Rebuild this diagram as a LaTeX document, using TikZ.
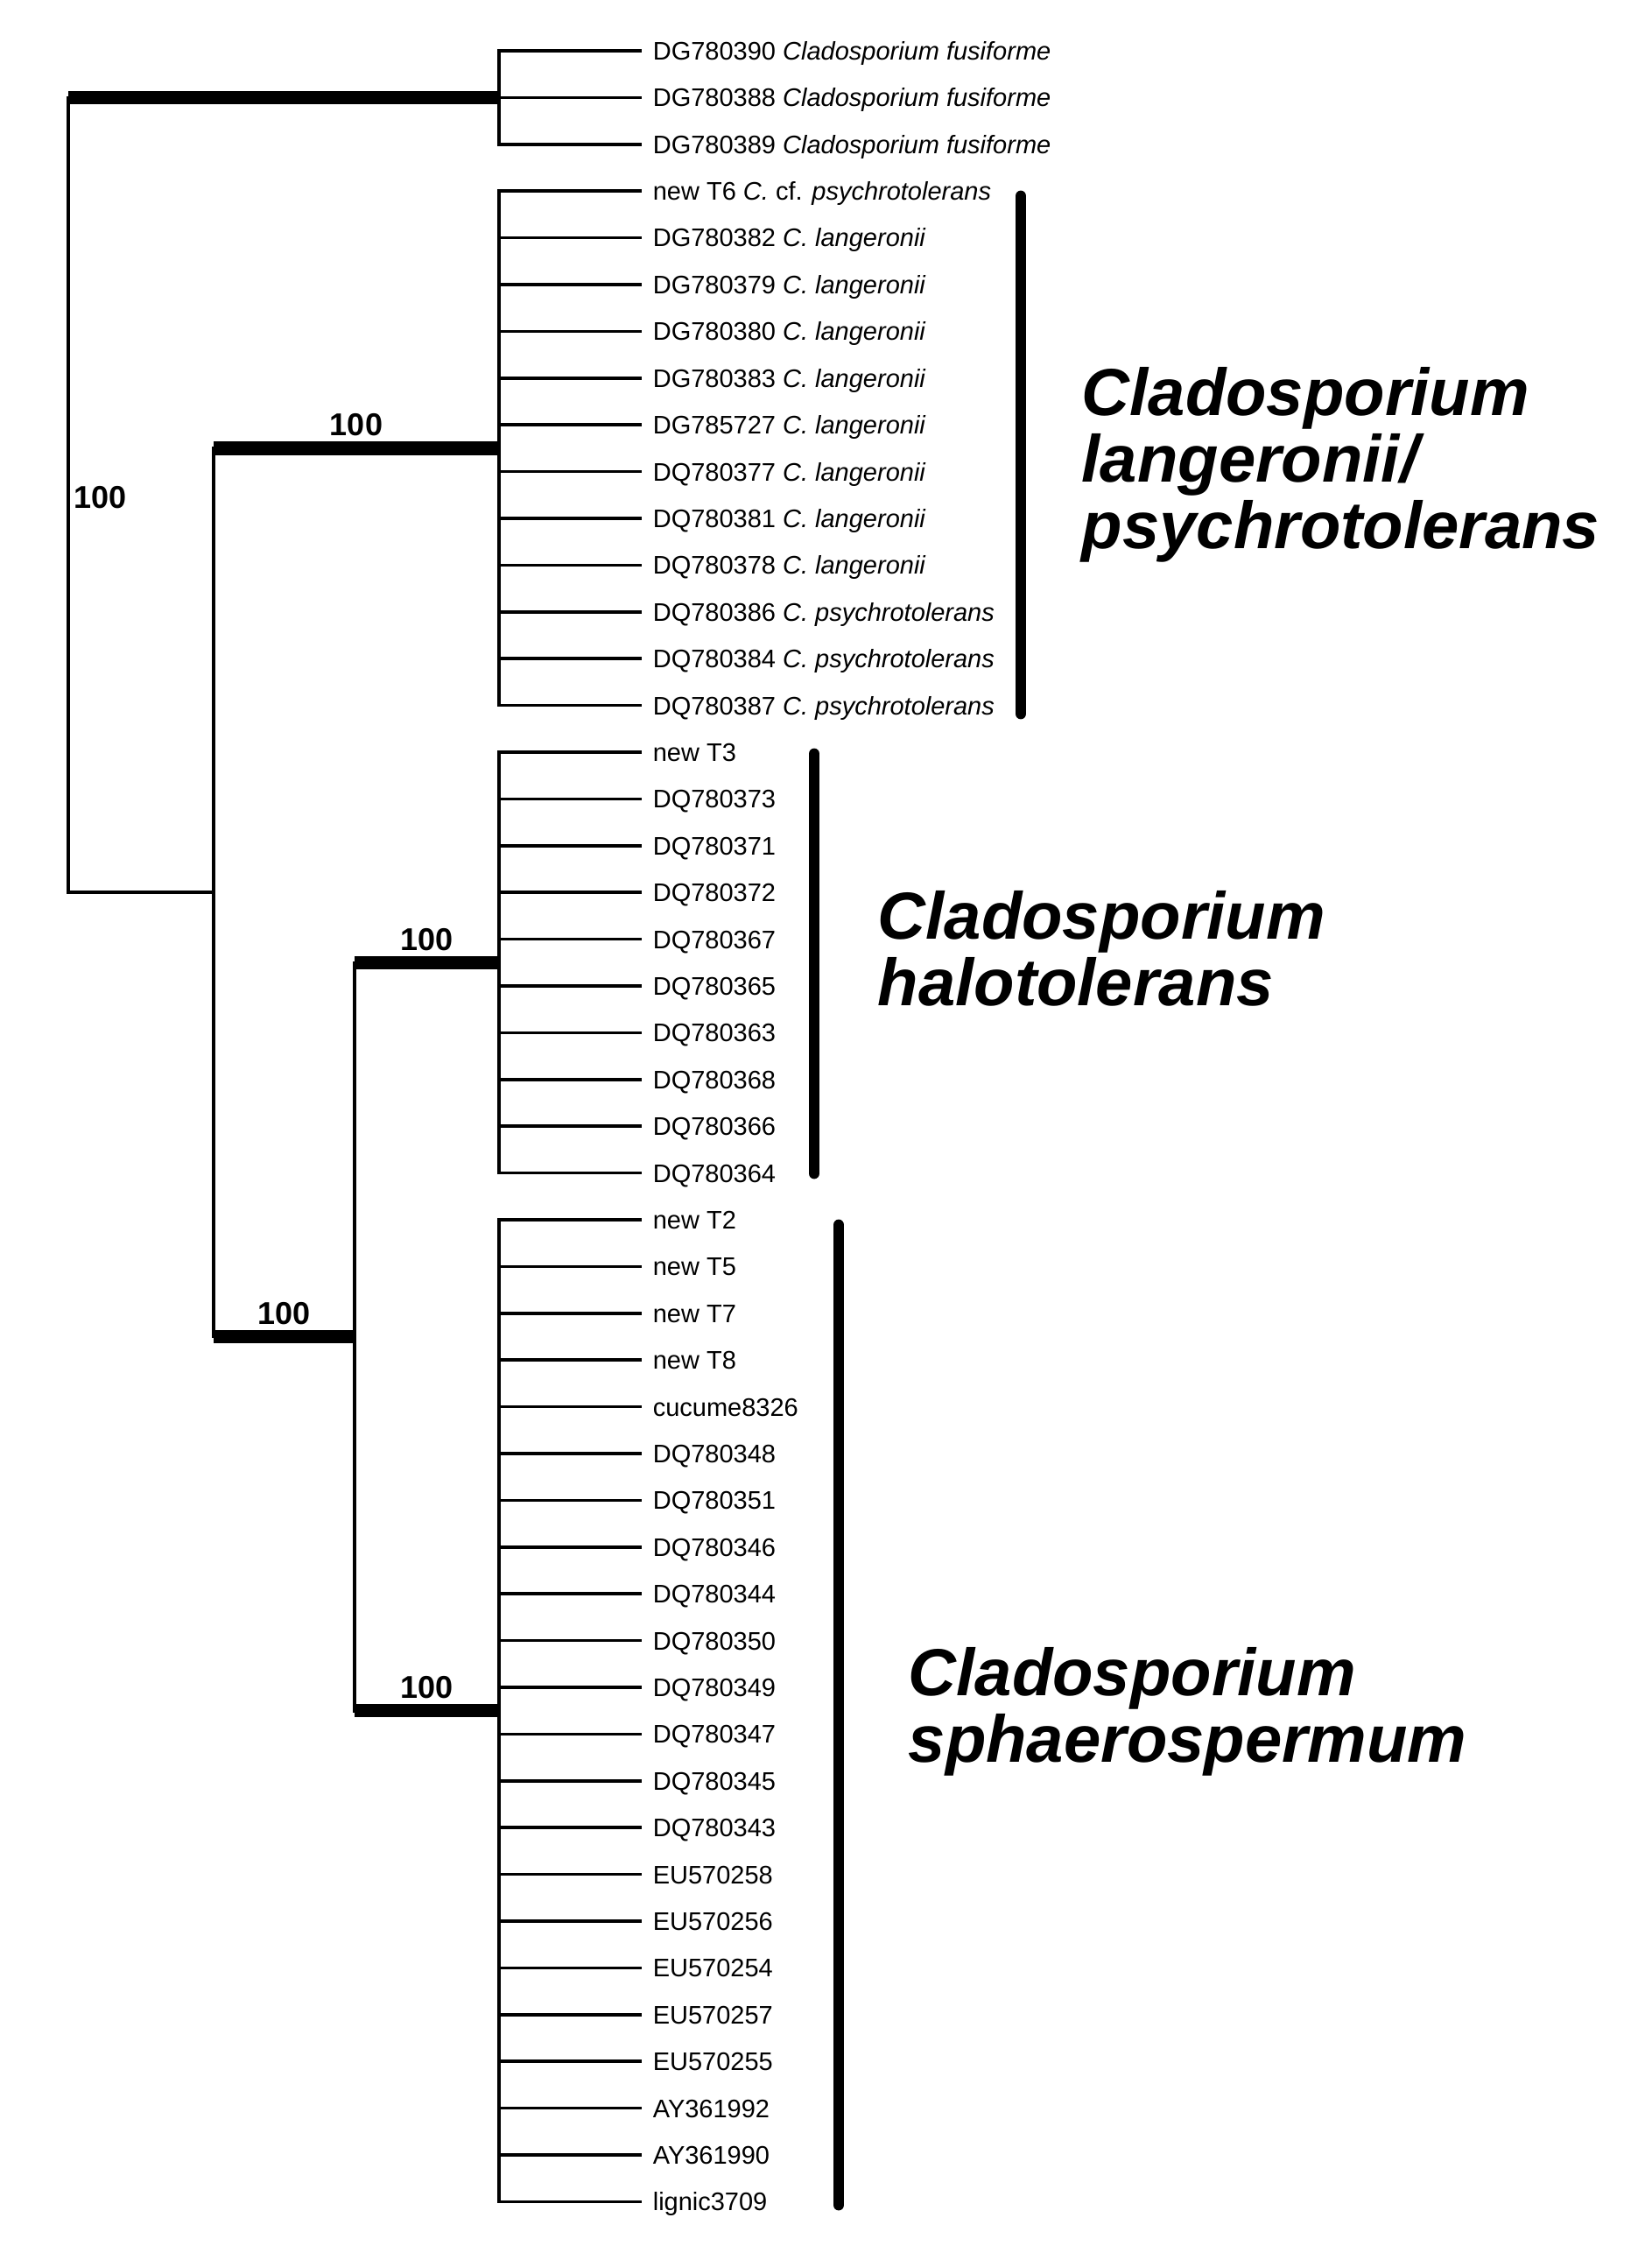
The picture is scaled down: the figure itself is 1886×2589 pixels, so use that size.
\documentclass[tikz,border=0pt]{standalone}
\usepackage{fontspec}
\setmainfont{Liberation Sans}
\usetikzlibrary{positioning,calc}
\tikzset{
  branch/.style   = {line width=0.9pt, line cap=rect},
  support/.style  = {line width=3.8pt},
  cladebar/.style = {line width=3.2pt, line cap=round},
  leaf/.style     = {anchor=west, font=\fontsize{7.25}{8}\selectfont, inner xsep=3.5pt,
                     inner ysep=0pt, text height=5.2pt, text depth=0pt},
  boot/.style     = {font=\fontsize{9}{10}\selectfont\bfseries, inner sep=1.5pt},
  grouplbl/.style = {font=\fontsize{19}{19}\selectfont\bfseries\itshape, align=left,
                     anchor=north west, inner sep=0pt},
}
\begin{document}
\begin{tikzpicture}[x=0.25pt, y=-0.25pt]
  \useasboundingbox (0,0) rectangle (1886,2589);
  % internal nodes of the tree
  \coordinate (root) at (78,565.3);
  \coordinate (nA)   at (244,1019.2);
  \coordinate (nB)   at (405,1526.5);
  \coordinate (fus)  at (570,111.4);
  \coordinate (lang) at (570,511.9);
  \coordinate (halo) at (570,1099.3);
  \coordinate (sph)  at (570,1953.7);
  % tips
  \foreach \i/\cl/\txt in {
      0/fus/{DG780390 \textit{Cladosporium fusiforme}},
      1/fus/{DG780388 \textit{Cladosporium fusiforme}},
      2/fus/{DG780389 \textit{Cladosporium fusiforme}},
      3/lang/{new T6 \textit{C.} cf. \textit{psychrotolerans}},
      4/lang/{DG780382 \textit{C. langeronii}},
      5/lang/{DG780379 \textit{C. langeronii}},
      6/lang/{DG780380 \textit{C. langeronii}},
      7/lang/{DG780383 \textit{C. langeronii}},
      8/lang/{DG785727 \textit{C. langeronii}},
      9/lang/{DQ780377 \textit{C. langeronii}},
      10/lang/{DQ780381 \textit{C. langeronii}},
      11/lang/{DQ780378 \textit{C. langeronii}},
      12/lang/{DQ780386 \textit{C. psychrotolerans}},
      13/lang/{DQ780384 \textit{C. psychrotolerans}},
      14/lang/{DQ780387 \textit{C. psychrotolerans}},
      15/halo/{new T3}, 16/halo/{DQ780373}, 17/halo/{DQ780371},
      18/halo/{DQ780372}, 19/halo/{DQ780367}, 20/halo/{DQ780365},
      21/halo/{DQ780363}, 22/halo/{DQ780368}, 23/halo/{DQ780366},
      24/halo/{DQ780364},
      25/sph/{new T2}, 26/sph/{new T5}, 27/sph/{new T7}, 28/sph/{new T8},
      29/sph/{cucume8326}, 30/sph/{DQ780348}, 31/sph/{DQ780351},
      32/sph/{DQ780346}, 33/sph/{DQ780344}, 34/sph/{DQ780350},
      35/sph/{DQ780349}, 36/sph/{DQ780347}, 37/sph/{DQ780345},
      38/sph/{DQ780343}, 39/sph/{EU570258}, 40/sph/{EU570256},
      41/sph/{EU570254}, 42/sph/{EU570257}, 43/sph/{EU570255},
      44/sph/{AY361992}, 45/sph/{AY361990}, 46/sph/{lignic3709}}
  {
    \node[leaf] (lf\i) at (731,{58+53.4*\i}) {\txt};
    \draw[branch] (\cl |- lf\i.west) -- (lf\i.west);
  }
  % clade stems
  \draw[branch] (fus |- lf0.west) -- (fus |- lf2.west);
  \draw[branch] (lang |- lf3.west) -- (lang |- lf14.west);
  \draw[branch] (halo |- lf15.west) -- (halo |- lf24.west);
  \draw[branch] (sph |- lf25.west) -- (sph |- lf46.west);
  % backbone
  \draw[branch] (fus) -| (root) |- (nA);
  \draw[branch] (lang) -| (nA) |- (nB);
  \draw[branch] (halo) -| (nB) |- (sph);
  \draw[support] (root |- fus) -- (fus);
  \draw[support] (nA |- lang) -- (lang) node[boot, midway, above=0pt] (b1) {100};
  \draw[support] (nA |- nB) -- (nB) node[boot, midway, above=0pt] (b2) {100};
  \draw[support] (nB |- halo) -- (halo) node[boot, midway, above=0pt] (b3) {100};
  \draw[support] (nB |- sph) -- (sph) node[boot, midway, above=0pt] (b4) {100};
  \node[boot, anchor=west, yshift=-0.8pt] (b0) at (root) {100};
  % group bars and names
  \draw[cladebar] (1166,224) -- (1166,815);
  \draw[cladebar] (930,861) -- (930,1340);
  \draw[cladebar] (958,1399) -- (958,2518);
  \node[grouplbl] (glang) at (1235,419) {Cladosporium\\langeronii/\\psychrotolerans};
  \node[grouplbl] (ghalo) at (1002,1017) {Cladosporium\\halotolerans};
  \node[grouplbl] (gsph)  at (1037,1881) {Cladosporium\\sphaerospermum};
\end{tikzpicture}
\end{document}
